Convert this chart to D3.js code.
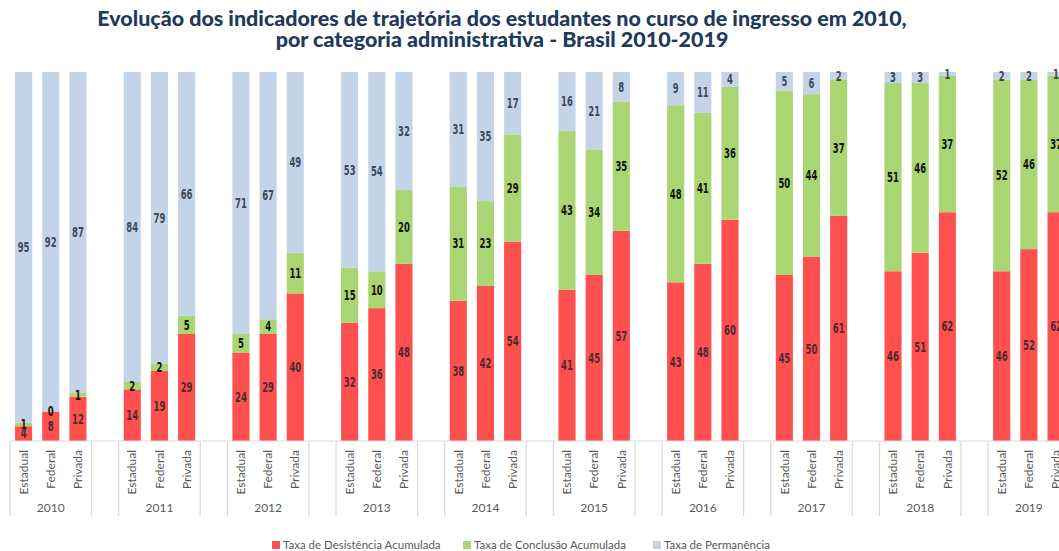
<!DOCTYPE html>
<html lang="pt">
<head>
<meta charset="UTF-8" />
<title>Indicadores de trajetória 2010-2019</title>
<script src="https://cdn.jsdelivr.net/npm/d3@7"></script>
<style>
  body { margin: 0; background: #fff; }
  svg { display: block; }
</style>
</head>
<body>
<svg id="chart" width="1059" height="551"></svg>
<script>
// data (percent)
const years = ["2010","2011","2012","2013","2014","2015","2016","2017","2018","2019"];
const categorias = ["Estadual","Federal","Privada"];
// one entry per year, order: Estadual, Federal, Privada
const desistencia = [
  [4, 8, 12], [14, 19, 29], [24, 29, 40], [32, 36, 48], [38, 42, 54],
  [41, 45, 57], [43, 48, 60], [45, 50, 61], [46, 51, 62], [46, 52, 62]
];
const conclusao = [
  [1, 0, 1], [2, 2, 5], [5, 4, 11], [15, 10, 20], [31, 23, 29],
  [43, 34, 35], [48, 41, 36], [50, 44, 37], [51, 46, 37], [52, 46, 37]
];
const permanencia = [
  [95, 92, 87], [84, 79, 66], [71, 67, 49], [53, 54, 32], [31, 35, 17],
  [16, 21, 8], [9, 11, 4], [5, 6, 2], [3, 3, 1], [2, 2, 1]
];
const seriesNames = ["Taxa de Desistência Acumulada", "Taxa de Conclusão Acumulada", "Taxa de Permanência"];
const keys = ["desist", "concl", "perm"];
const colors = ["#ff5050", "#a9d672", "#c3d4e9"];
const labelColors = ["#4a2c2c", "#111111", "#404a55"];

const svg = d3.select("#chart");

// rows for stacking
let rows = [];
years.forEach((y, i) => {
  categorias.forEach((c, j) => {
    rows.push({ year: y, cat: c, slot: y + "|" + c,
      desist: desistencia[i][j], concl: conclusao[i][j], perm: permanencia[i][j] });
  });
});

// each year gets 3 bar slots + 1 empty slot
let slots = [];
years.forEach(y => { categorias.forEach(c => slots.push(y + "|" + c)); slots.push(y + "|gap"); });

const slotW = 27.17;
const x = d3.scaleBand().domain(slots).range([10, 10 + slots.length * slotW]).padding(0);
const y = d3.scaleLinear().domain([0, 100]).range([441, 72]);
const barW = x.bandwidth() * 0.63;

const stacked = d3.stack().keys(keys)(rows);

const g = svg.append("g");

stacked.forEach((layer, k) => {
  g.append("g").selectAll("rect")
    .data(layer)
    .join("rect")
    .attr("x", d => x(d.data.slot) + (x.bandwidth() - barW) / 2)
    .attr("width", barW)
    .attr("y", d => y(d[1]))
    .attr("height", d => y(d[0]) - y(d[1]))
    .attr("fill", colors[k]);
});

// value labels
stacked.forEach((layer, k) => {
  g.append("g").selectAll("text")
    .data(layer)
    .join("text")
    .attr("transform", d => {
      const cx = x(d.data.slot) + x.bandwidth() / 2;
      const cy = (y(d[0]) + y(d[1])) / 2;
      return `translate(${cx},${cy}) scale(0.7,1)`;
    })
    .attr("text-anchor", "middle")
    .attr("dy", "0.36em")
    .style("font-family", "'DejaVu Sans Condensed', 'DejaVu Sans', sans-serif")
    .style("font-weight", "bold")
    .style("font-size", "13.5px")
    .attr("fill", labelColors[k])
    .text(d => d.data[keys[k]]);
});

// axis line and group separators
const axisG = svg.append("g");
axisG.append("line")
  .attr("x1", 10).attr("x2", 1059)
  .attr("y1", 441).attr("y2", 441)
  .attr("stroke", "#d9d9d9").attr("stroke-width", 1.2);

years.forEach(yr => {
  const x0 = x(yr + "|Estadual");
  const x1 = x(yr + "|gap");
  [x0, x1].forEach(xx => {
    axisG.append("line")
      .attr("x1", xx).attr("x2", xx)
      .attr("y1", 441).attr("y2", 516)
      .attr("stroke", "#d9d9d9").attr("stroke-width", 1.2);
  });
  axisG.append("text")
    .attr("x", (x0 + x1) / 2)
    .attr("y", 512)
    .attr("text-anchor", "middle")
    .style("font-family", "Lato, 'Open Sans', sans-serif")
    .style("font-size", "12px")
    .attr("fill", "#595959")
    .text(yr);
});

axisG.selectAll("text.cat")
  .data(rows)
  .join("text")
  .attr("class", "cat")
  .attr("transform", d => `translate(${x(d.slot) + x.bandwidth() / 2},450) rotate(-90)`)
  .attr("text-anchor", "end")
  .attr("dy", "0.35em")
  .style("font-family", "Lato, 'Open Sans', sans-serif")
  .style("font-size", "12px")
  .attr("fill", "#595959")
  .text(d => d.cat);

// title
const title = svg.append("g")
  .style("font-family", "Lato, sans-serif")
  .style("font-weight", "900")
  .attr("fill", "#213a5c")
  .attr("text-anchor", "middle");
const titleLines = [
  "Evolução dos indicadores de trajetória dos estudantes no curso de ingresso em 2010,",
  "por categoria administrativa - Brasil 2010-2019"
];
title.selectAll("text")
  .data(titleLines)
  .join("text")
  .attr("x", 502)
  .attr("y", (d, i) => 26 + i * 20.5)
  .style("font-size", "18px")
  .text(d => d);
// fit first line to the reference width
const t0 = title.select("text").node();
const w0 = t0.getComputedTextLength();
const fs = 18 * 810 / w0;
title.selectAll("text").style("font-size", fs + "px");

// legend
const legendX = [272, 463, 653];
const legend = svg.append("g");
seriesNames.forEach((name, i) => {
  legend.append("rect")
    .attr("x", legendX[i]).attr("y", 541)
    .attr("width", 8).attr("height", 8)
    .attr("fill", colors[i]);
  legend.append("text")
    .attr("x", legendX[i] + 11).attr("y", 545)
    .attr("dy", "0.35em")
    .style("font-family", "Lato, 'Open Sans', sans-serif")
    .style("font-size", "11.5px")
    .attr("fill", "#595959")
    .text(name);
});
</script>
</body>
</html>
